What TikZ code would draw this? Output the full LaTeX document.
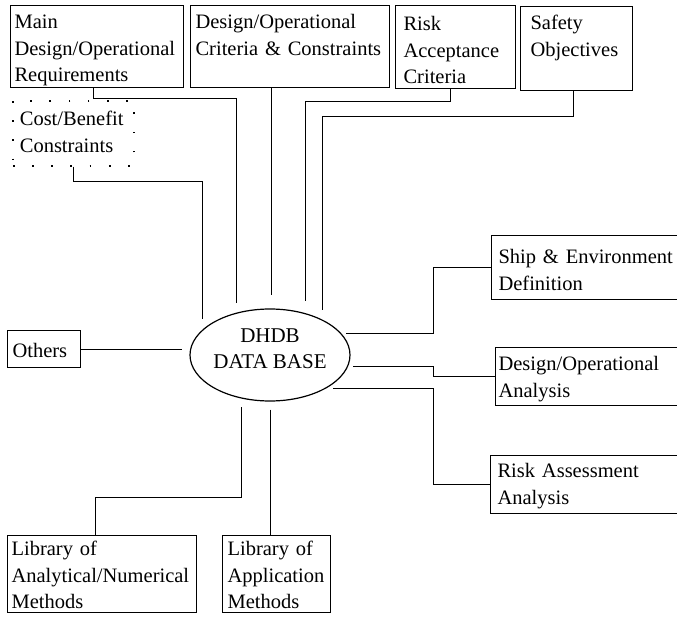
\documentclass[tikz,border=0pt]{standalone}
\usepackage{fontspec}
\setmainfont{Liberation Serif}
\usetikzlibrary{shapes.geometric}

\begin{document}
\begin{tikzpicture}[
x=1pt,y=-1pt,
font=\fontsize{20.5}{26.5}\selectfont,
blk/.style={
  draw,
  line width=1.1pt,
  anchor=north west,
  align=left,
  inner ysep=3pt,
  text height=20pt
},
dots/.style={
  draw,
  line width=1.7pt,
  dash pattern=on 1.7pt off 17.5pt,
  anchor=north west,
  align=left,
  inner ysep=3pt
},
dbase/.style={
  draw,
  ellipse,
  line width=1.2pt,
  minimum width=160pt,
  minimum height=92pt,
  inner xsep=-12pt,
  inner ysep=0pt,
  align=center,
  font=\fontsize{21}{26}\selectfont,
  text height=40pt,
  text depth=14pt
},
link/.style={line width=1pt}
]
\useasboundingbox (0,0) rectangle (677,620);
\clip (0,0) rectangle (677,620);

\node[blk,inner xsep=4pt,text width=165pt,text depth=56pt] at (10,5)
  (main) {Main\\Design/Operational\\Requirements};
\node[blk,inner xsep=5pt,text width=189pt,text depth=56pt] at (190,5)
  (crit) {Design/Operational\\Criteria \& Constraints};
\node[blk,inner xsep=8pt,text width=104pt,text height=22pt,text depth=55pt] at (395,5)
  (risk) {Risk\\Acceptance\\Criteria};
\node[blk,inner xsep=10pt,text width=92pt,text depth=58pt] at (520,6)
  (safety) {Safety\\Objectives};
\node[dots,inner xsep=7pt,text width=107pt,text height=22pt,text depth=37pt] at (12,100)
  (cost) {Cost/Benefit\\Constraints};
\node[blk,inner xsep=5pt,text width=63pt,text height=24pt,text depth=7pt] at (7,330)
  (others) {Others};
\node[dbase] at (270,355)
  (db) {DHDB\\DATA BASE};
\node[blk,inner xsep=7pt,text width=186pt,text height=25pt,text depth=33pt] at (491,235)
  (ship) {Ship \& Environment\\Definition};
\node[blk,inner xsep=3pt,text width=194pt,text depth=32pt] at (495,347)
  (anal) {Design/Operational\\Analysis};
\node[blk,inner xsep=7pt,text width=186pt,text height=19pt,text depth=33pt] at (490,455)
  (assess) {Risk Assessment\\Analysis};
\node[blk,inner xsep=4pt,text width=181pt,text height=17pt,text depth=54pt] at (7,535)
  (libnum) {Library of\\Analytical/Numerical\\Methods};
\node[blk,inner xsep=5pt,text width=98pt,text height=17pt,text depth=54pt] at (222,535)
  (libapp) {Library of\\Application\\Methods};

\draw[link,shorten >=10pt] ([xshift=-4pt]main.south) -- ++(0,10) -| (db.128);
\draw[link,shorten >=10pt] (cost.south) -- ++(0,15) -| (db.159);
\draw[link,shorten >=13pt] (crit.south -| db.88) -- (db.88);
\draw[link,shorten >=12pt] ([xshift=-5pt]risk.south) -- ++(0,12) -| (db.50);
\draw[link,shorten >=10pt] ([xshift=-3pt]safety.south) -- ++(0,25) -| (db.34);
\draw[link,shorten >=7pt] (others.east) -- (others.east -| db.west);
\draw[link,shorten >=5pt] (ship.west) -- ++(-58,0) |- (db.17);
\draw[link,shorten >=5pt] (anal.west) -- ++(-62,0) |- (db.-8);
\draw[link,shorten >=7pt] (assess.west) -- ++(-57,0) |- (db.-31);
\draw[link,shorten >=8pt] ([xshift=-7pt]libnum.north) -- ++(0,-38) -| (db.-123);
\draw[link,shorten <=8pt] (db.south) -- (db.south |- libapp.north);
\end{tikzpicture}
\end{document}
